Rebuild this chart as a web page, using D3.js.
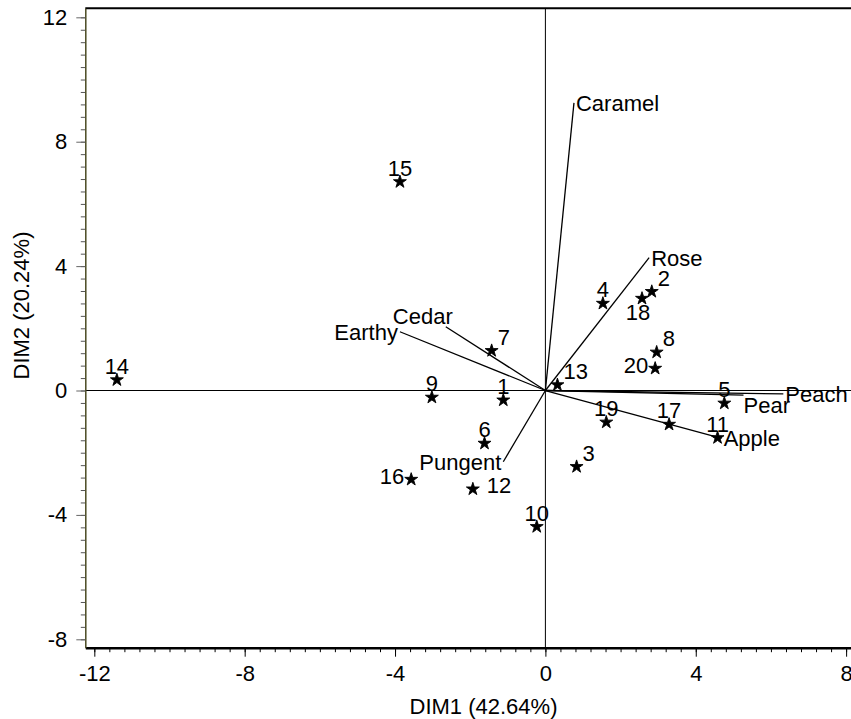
<!DOCTYPE html>
<html>
<head>
<meta charset="utf-8">
<script src="https://cdn.jsdelivr.net/npm/d3@7"></script>
<style>
  body { margin: 0; background: #fff; }
  text { font-family: "Liberation Sans", Arial, sans-serif; fill: #000; }
</style>
</head>
<body>
<svg id="chart" width="851" height="719"></svg>
<script>
// observations (product scores on DIM1 / DIM2)
const obsIds = ["1","2","3","4","5","6","7","8","9","10","11","12","13","14","15","16","17","18","19","20"];
const obsDim1 = [-1.12, 2.83, 0.83, 1.53, 4.76, -1.62, -1.43, 2.96, -3.02, -0.23, 4.58, -1.93, 0.32, -11.40, -3.87, -3.57, 3.29, 2.57, 1.62, 2.92];
const obsDim2 = [-0.31, 3.18, -2.45, 2.80, -0.41, -1.70, 1.28, 1.23, -0.22, -4.38, -1.52, -3.17, 0.18, 0.34, 6.71, -2.86, -1.09, 2.96, -1.02, 0.71];

// attribute loadings (vectors from origin)
const attrNames = ["Caramel", "Rose", "Peach", "Pear", "Apple", "Cedar", "Earthy", "Pungent"];
const attrDim1 = [0.76, 2.76, 6.33, 5.27, 4.69, -2.65, -3.87, -1.12];
const attrDim2 = [9.25, 4.27, -0.11, -0.15, -1.54, 2.05, 1.89, -2.29];

// axis ticks
const xTicks = [-12, -8, -4, 0, 4, 8];
const yTicks = [-8, -4, 0, 4, 8, 12];

// label placement around each mark
const obsPlace = {"1":"n","2":"ne","3":"ne","4":"n","5":"n","6":"n","7":"ne","8":"ne","9":"n","10":"n",
  "11":"n","12":"e","13":"ne","14":"n","15":"n","16":"w","17":"n","18":"s","19":"n","20":"w"};
const attrPlace = {Caramel:"e", Rose:"e", Peach:"e", Pear:"se", Apple:"e", Cedar:"nw", Earthy:"w", Pungent:"w"};

const svg = d3.select("#chart");
const mLeft = 85.3, mRight = 851, mTop = 8.3, mBottom = 647.7;

const x = d3.scaleLinear().domain([-12.24, 8.13]).range([mLeft, mRight]);
const y = d3.scaleLinear().domain([-8.27, 12.29]).range([mBottom, mTop]);

const minorX = d3.range(-12, 8.01, 0.4).map(v => +v.toFixed(1));
const minorY = d3.range(-8, 12.01, 0.4).map(v => +v.toFixed(1));
const plain = d => String(d);  // hyphen minus, not the unicode minus sign

// reference lines through origin
svg.append("line").attr("x1", mLeft).attr("x2", mRight).attr("y1", y(0)).attr("y2", y(0))
  .attr("stroke", "#000").attr("stroke-width", 1);
svg.append("line").attr("x1", x(0)).attr("x2", x(0)).attr("y1", mTop).attr("y2", mBottom)
  .attr("stroke", "#000").attr("stroke-width", 1);

// top frame line
svg.append("line").attr("x1", mLeft).attr("x2", mRight).attr("y1", mTop).attr("y2", mTop)
  .attr("stroke", "#000").attr("stroke-width", 2);

// x axis
const gx = svg.append("g").attr("transform", `translate(0,${mBottom})`);
gx.append("g").call(d3.axisBottom(x).tickValues(minorX).tickSize(4.5).tickSizeOuter(0).tickFormat(""))
  .call(g => g.select(".domain").remove());
gx.append("g").call(d3.axisBottom(x).tickValues(xTicks).tickSize(9).tickSizeOuter(0).tickPadding(9).tickFormat(plain))
  .call(g => g.select(".domain").attr("stroke-width", 2.5))
  .call(g => g.selectAll("text").attr("font-size", 22).attr("font-family", "Liberation Sans, Arial, sans-serif"));

// y axis
const gy = svg.append("g").attr("transform", `translate(${mLeft},0)`);
gy.append("g").call(d3.axisLeft(y).tickValues(minorY).tickSize(4.5).tickSizeOuter(0).tickFormat(""))
  .call(g => g.select(".domain").remove())
  .call(g => g.selectAll("line").attr("stroke", "#555"));
gy.append("g").call(d3.axisLeft(y).tickValues(yTicks).tickSize(9).tickSizeOuter(0).tickPadding(9).tickFormat(plain))
  .call(g => g.select(".domain").attr("stroke", "#4a4a22").attr("stroke-width", 1.5))
  .call(g => g.selectAll("line").attr("stroke", "#666"))
  .call(g => g.selectAll("text").attr("font-size", 22).attr("font-family", "Liberation Sans, Arial, sans-serif"));

// axis titles
svg.append("text").attr("x", 483.5).attr("y", 714)
  .attr("text-anchor", "middle").attr("font-size", 22).text("DIM1 (42.64%)");
svg.append("text").attr("transform", `translate(28.5,305.5) rotate(-90)`)
  .attr("text-anchor", "middle").attr("font-size", 22).text("DIM2 (20.24%)");

// attribute vectors
const attrs = attrNames.map((n, i) => ({name: n, d1: attrDim1[i], d2: attrDim2[i]}));
svg.append("g").selectAll("line").data(attrs).join("line")
  .attr("x1", x(0)).attr("y1", y(0))
  .attr("x2", d => x(d.d1)).attr("y2", d => y(d.d2))
  .attr("stroke", "#000").attr("stroke-width", 1.3);

const attrOffset = {e: [2, 8, "start"], w: [-2, 8, "end"], se: [0, 18, "start"], nw: [7, -3, "end"]};
svg.append("g").selectAll("text").data(attrs).join("text")
  .attr("x", d => x(d.d1) + attrOffset[attrPlace[d.name]][0])
  .attr("y", d => y(d.d2) + attrOffset[attrPlace[d.name]][1])
  .attr("text-anchor", d => attrOffset[attrPlace[d.name]][2])
  .attr("font-size", 22)
  .text(d => d.name);

// observations
const obs = obsIds.map((id, i) => ({id, d1: obsDim1[i], d2: obsDim2[i]}));
const star = d3.symbol().type(d3.symbolStar).size(52);
svg.append("g").selectAll("path").data(obs).join("path")
  .attr("transform", d => `translate(${x(d.d1)},${y(d.d2)})`)
  .attr("d", star)
  .attr("fill", "#000")
  .attr("stroke", "#000").attr("stroke-width", 0.9).attr("stroke-linejoin", "round");

const obsOffset = {n: [0, -6, "middle"], ne: [6, -6, "start"], s: [-4, 22, "middle"],
  w: [-7, 5, "end"], e: [14, 4, "start"]};
svg.append("g").selectAll("text").data(obs).join("text")
  .attr("x", d => x(d.d1) + obsOffset[obsPlace[d.id]][0])
  .attr("y", d => y(d.d2) + obsOffset[obsPlace[d.id]][1])
  .attr("text-anchor", d => obsOffset[obsPlace[d.id]][2])
  .attr("font-size", 22)
  .text(d => d.id);
</script>
</body>
</html>
